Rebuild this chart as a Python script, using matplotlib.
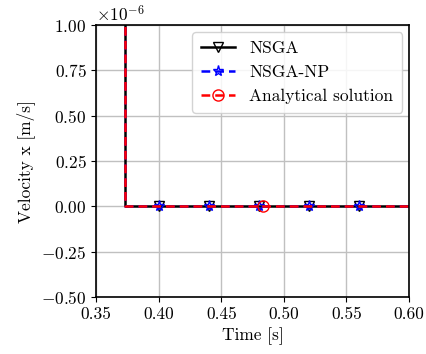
import matplotlib
matplotlib.use("Agg")
import matplotlib.pyplot as plt

plt.rcParams.update({
    "font.family": "serif",
    "font.serif": ["cmr10"],
    "mathtext.fontset": "cm",
    "axes.formatter.use_mathtext": True,
    "font.size": 12.5,
})

# Sampled velocity histories (m/s)
t_nsga = [0.30, 0.36, 0.373, 0.373, 0.40, 0.44, 0.48, 0.52, 0.56, 0.60]
v_nsga = [3e-6, 3e-6, 3e-6, 0.0, 0.0, 0.0, 0.0, 0.0, 0.0, 0.0]
t_np = [0.30, 0.36, 0.373, 0.373, 0.40, 0.44, 0.48, 0.52, 0.56, 0.60]
v_np = [3e-6, 3e-6, 3e-6, 0.0, 0.0, 0.0, 0.0, 0.0, 0.0, 0.0]
t_exact = [0.30, 0.373, 0.373, 0.483, 0.60]
v_exact = [3e-6, 3e-6, 0.0, 0.0, 0.0]

fig = plt.figure(figsize=(4.26, 3.54), dpi=100)
ax = fig.add_axes([0.226, 0.161, 0.734, 0.768])

ax.plot(t_nsga, v_nsga, color="black", lw=1.8, ls="-", marker="v",
        mfc="none", mec="black", ms=7.5, markevery=[4, 5, 6, 7, 8],
        label="NSGA")
ax.plot(t_np, v_np, color="blue", lw=1.8, ls=(0, (3.5, 2)), marker="*",
        mfc="none", mec="blue", ms=8, markevery=[4, 5, 6, 7, 8],
        label="NSGA-NP")
ax.plot(t_exact, v_exact, color="red", lw=1.8, ls=(0, (3.5, 2)), marker="o",
        mfc="none", mec="red", ms=8, markevery=[3],
        label="Analytical solution")

ax.set_xlim(0.35, 0.60)
ax.set_ylim(-0.5e-6, 1.0e-6)
ax.set_xticks([0.35, 0.40, 0.45, 0.50, 0.55, 0.60])
ax.set_xticklabels(["0.35", "0.40", "0.45", "0.50", "0.55", "0.60"])
ax.set_yticks([-0.5e-6, -0.25e-6, 0, 0.25e-6, 0.5e-6, 0.75e-6, 1.0e-6])
ax.grid(True, color="#c0c0c0", lw=1.0)
ax.set_axisbelow(True)
for s in ax.spines.values():
    s.set_linewidth(1.2)

ax.set_xlabel("Time [s]", labelpad=4)
ax.set_ylabel("Velocity x [m/s]")
ax.legend(loc="upper right", framealpha=0.85, edgecolor="#cccccc",
          handlelength=2.0, borderpad=0.5, labelspacing=0.5,
          borderaxespad=0.4)

fig.savefig("out.png", dpi=100)
